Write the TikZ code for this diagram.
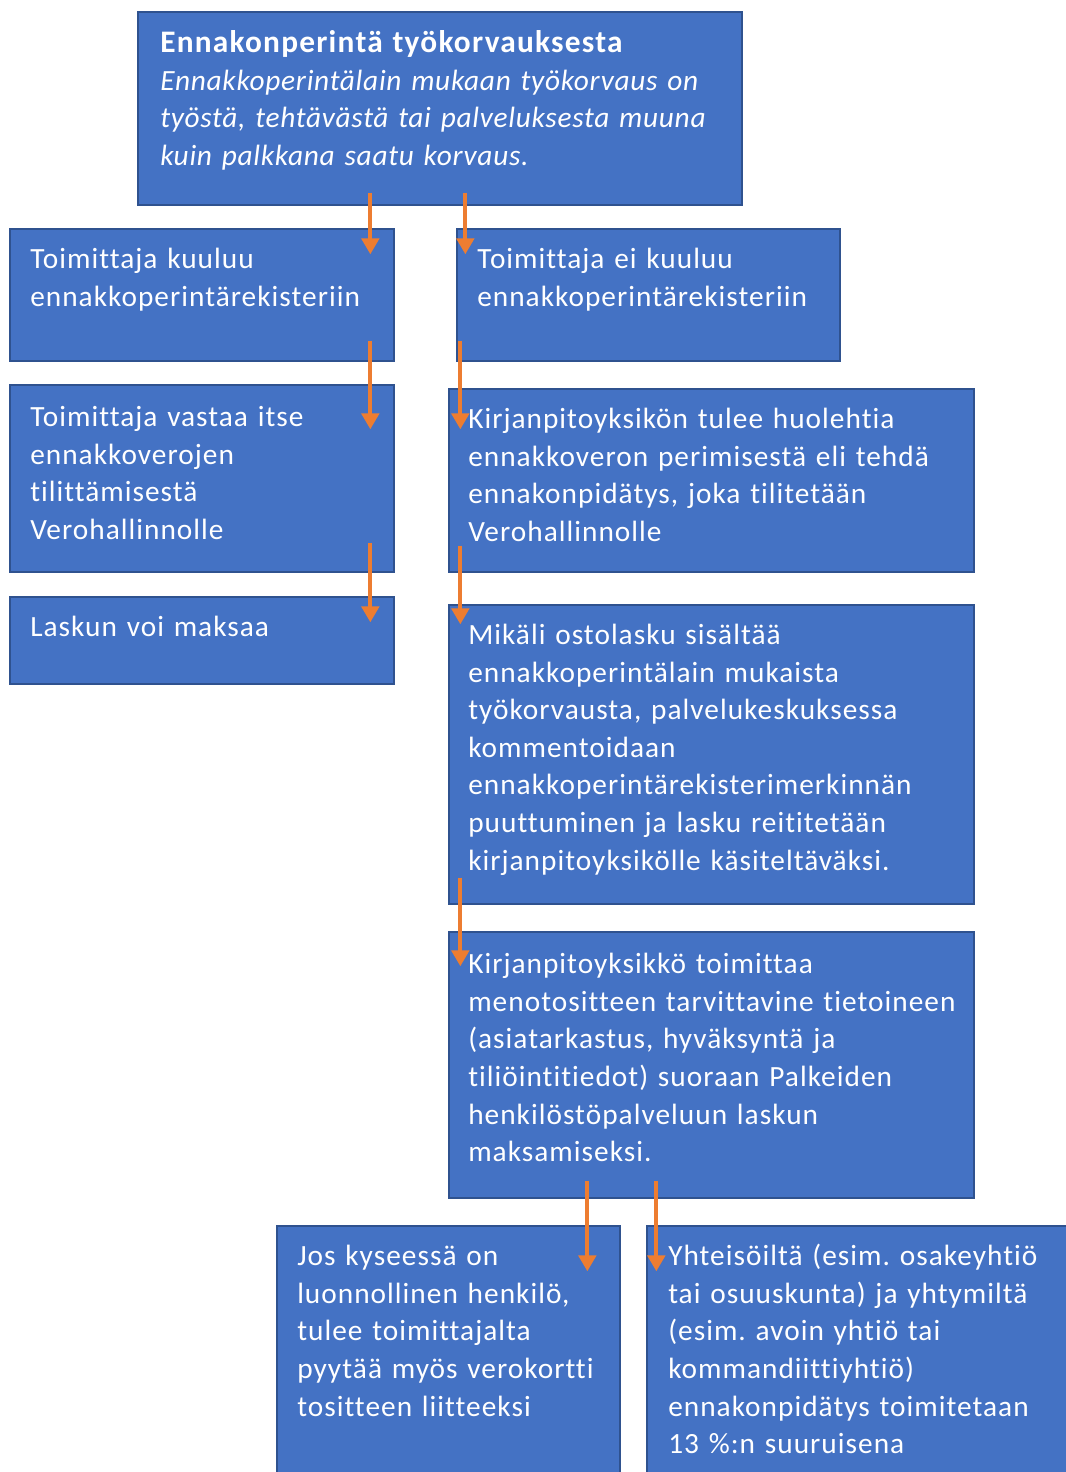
\documentclass[tikz,border=0pt]{standalone}
\usepackage{fontspec}
\setmainfont{Carlito}[LetterSpace=3.5,Ligatures=NoCommon]
\newfontfamily\titlefont{Carlito}[LetterSpace=4,Ligatures=NoCommon]
\newfontfamily\italfont{Carlito}[LetterSpace=2.5,Ligatures=NoCommon]
\usetikzlibrary{arrows.meta,fit}
\definecolor{boxblue}{HTML}{4472C4}
\definecolor{boxedge}{HTML}{2F528F}
\definecolor{arrorange}{HTML}{ED7D31}
\begin{document}
\begin{tikzpicture}[x=0.75pt,y=-0.75pt,
  box/.style={draw=boxedge, line width=1pt, fill=boxblue, inner sep=0pt},
  txt/.style={anchor=north west, inner sep=0pt, text=white, text width=560pt, align=left,
    font=\fontsize{22}{28.2}\selectfont},
  arr/.style={draw=arrorange, line width=3pt, -{Triangle[width=13pt,length=12pt]}}]
\useasboundingbox (0,0) rectangle (1066,1472);
\fill[white] (0,0) rectangle (1066,1472);
% boxes
\node[box, fit={(138,12)(742,205)}] (top) {};
\node[box, fit={(10,229)(394,361)}] (l1) {};
\node[box, fit={(457,229)(840,361)}] (r1) {};
\node[box, fit={(10,385)(394,572)}] (l2) {};
\node[box, fit={(449,389)(974,572)}] (r2) {};
\node[box, fit={(10,597)(394,684)}] (l3) {};
\node[box, fit={(449,605)(974,904)}] (r3) {};
\node[box, fit={(449,932)(974,1198)}] (r4) {};
\node[box, fit={(277,1226)(620,1490)}] (b1) {};
\node[box, fit={(647,1226)(1080,1490)}] (b2) {};
% texts
\node[txt] (topt) at (160,26) {\strut{\titlefont\fontsize{23.5}{28.2}\selectfont\bfseries Ennakonperintä työkorvauksesta}\\
  \italfont\itshape Ennakkoperintälain mukaan työkorvaus on\\
  työstä, tehtävästä tai palveluksesta muuna\\
  kuin palkkana saatu korvaus.};
\node[txt] (l1t) at (30,242) {\strut Toimittaja kuuluu\\ ennakkoperintärekisteriin};
\node[txt] (r1t) at (477,242) {\strut Toimittaja ei kuuluu\\ ennakkoperintärekisteriin};
\node[txt] (l2t) at (30,400) {\strut Toimittaja vastaa itse\\ ennakkoverojen\\ tilittämisestä\\ Verohallinnolle};
\node[txt] (r2t) at (468,402) {\strut Kirjanpitoyksikön tulee huolehtia\\ ennakkoveron perimisestä eli tehdä\\ ennakonpidätys, joka tilitetään\\ Verohallinnolle};
\node[txt] (l3t) at (30,610) {\strut Laskun voi maksaa};
\node[txt] (r3t) at (468,618) {\strut Mikäli ostolasku sisältää\\ ennakkoperintälain mukaista\\ työkorvausta, palvelukeskuksessa\\ kommentoidaan\\ ennakkoperintärekisterimerkinnän\\ puuttuminen ja lasku reititetään\\ kirjanpitoyksikölle käsiteltäväksi.};
\node[txt] (r4t) at (468,947) {\strut Kirjanpitoyksikkö toimittaa\\ menotositteen tarvittavine tietoineen\\ (asiatarkastus, hyväksyntä ja\\ tiliöintitiedot) suoraan Palkeiden\\ henkilöstöpalveluun laskun\\ maksamiseksi.};
\node[txt] (b1t) at (297,1239) {\strut Jos kyseessä on\\ luonnollinen henkilö,\\ tulee toimittajalta\\ pyytää myös verokortti\\ tositteen liitteeksi};
\node[txt] (b2t) at (668,1239) {\strut Yhteisöiltä (esim.\ osakeyhtiö\\ tai osuuskunta) ja yhtymiltä\\ (esim.\ avoin yhtiö tai\\ kommandiittiyhtiö)\\ ennakonpidätys toimitetaan\\ 13 \%:n suuruisena};
% arrows
\draw[arr] ([shift={(233,-13)}]top.south west) -- ([shift={(361,26)}]l1.north west);
\draw[arr] ([shift={(328,-13)}]top.south west) -- ([shift={(9,26)}]r1.north west);
\draw[arr] ([shift={(361,-21)}]l1.south west) -- ([shift={(361,45)}]l2.north west);
\draw[arr] ([shift={(361,-30)}]l2.south west) -- ([shift={(361,26)}]l3.north west);
\draw[arr] ([shift={(4,-21)}]r1.south west) -- ([shift={(12,41)}]r2.north west);
\draw[arr] ([shift={(12,-27)}]r2.south west) -- ([shift={(12,20)}]r3.north west);
\draw[arr] ([shift={(12,-27)}]r3.south west) -- ([shift={(12,35)}]r4.north west);
\draw[arr] ([shift={(139,-18)}]r4.south west) -- ([shift={(311,46)}]b1.north west);
\draw[arr] ([shift={(208,-18)}]r4.south west) -- ([shift={(10,46)}]b2.north west);
\end{tikzpicture}
\end{document}
